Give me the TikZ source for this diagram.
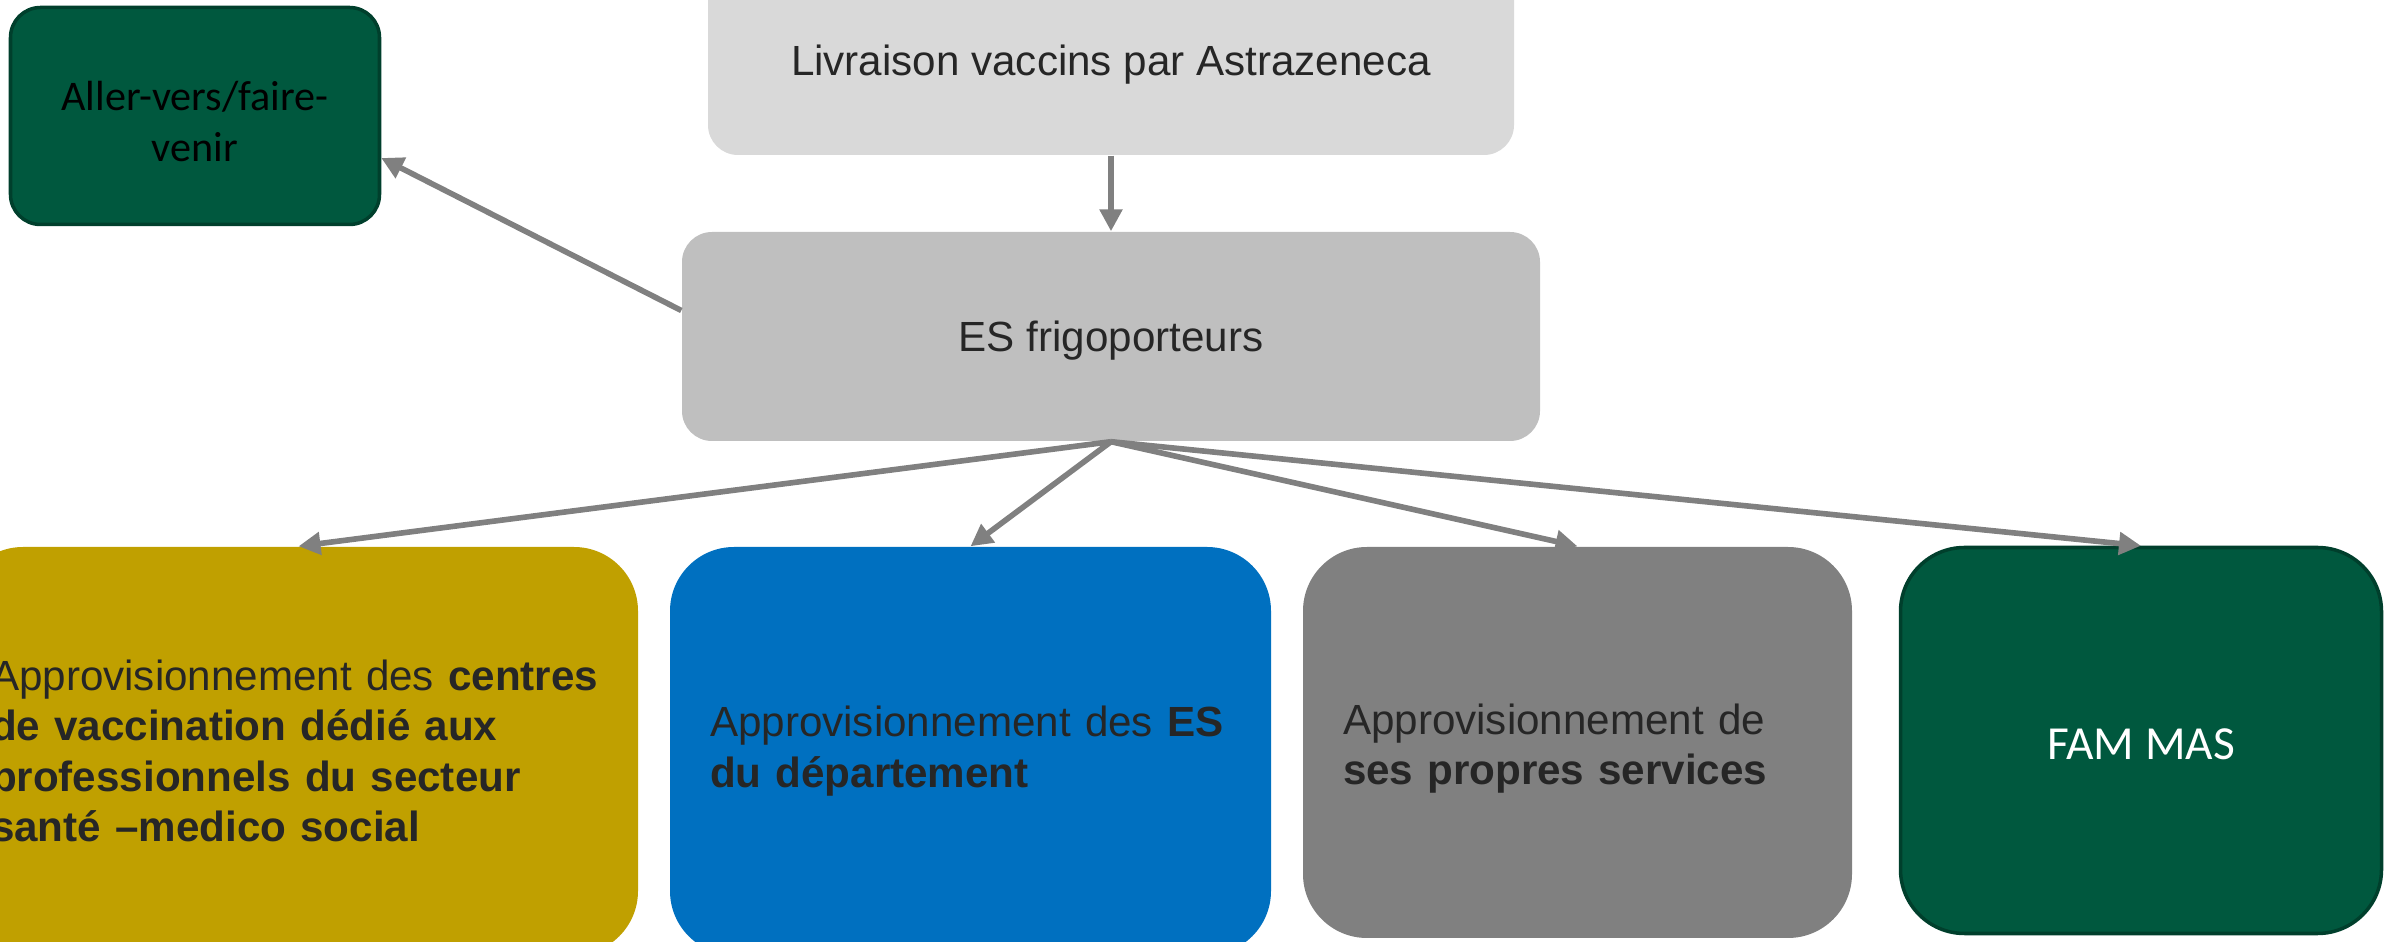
\documentclass[tikz,border=0pt]{standalone}
\usepackage{fontspec}
\setmainfont{Liberation Sans}
\newfontfamily\calibri{Carlito}
\usetikzlibrary{positioning}
\usetikzlibrary{arrows.meta}
\definecolor{texte}{HTML}{262626}
\definecolor{grisclair}{HTML}{D9D9D9}
\definecolor{grismoyen}{HTML}{BFBFBF}
\definecolor{gris}{HTML}{808080}
\definecolor{jaune}{HTML}{C0A000}
\definecolor{bleu}{HTML}{0070C0}
\definecolor{vertfonce}{HTML}{00583E}
\definecolor{vertbord}{HTML}{003F2C}
\tikzset{
	every node/.style = {font=\fontsize{12}{14.4}\selectfont, text=texte},
	boite/.style = {rectangle, rounded corners=0.3cm, inner sep=0pt, align=center},
	ligne/.style = {text height=1.04em, text depth=0.2em},
	appro/.style = {rectangle, rounded corners=0.64cm, inner xsep=0.4cm, inner ysep=0pt, align=left},
	vert/.style = {fill=vertfonce, draw=vertbord, line width=1pt},
	fleche/.style = {draw=gris, line width=1.6pt, -{Triangle[length=0.22cm, width=0.22cm]}}
}

\begin{document}
\begin{tikzpicture}
		\useasboundingbox (0,0) rectangle (23.98,-9.42);
		\clip (0,0) rectangle (23.98,-9.42);
		
		% niveau du haut
		\node[boite, ligne, fill=grisclair, minimum width=8.06cm, minimum height=1.88cm]
			(livraison) at (11.11,-0.61) {Livraison vaccins par Astrazeneca};
		\node[boite, ligne, fill=grismoyen, minimum width=8.58cm, minimum height=2.09cm]
			(frigo) at (11.11,-3.365) {ES frigoporteurs};
		\node[boite, vert, minimum width=3.69cm, minimum height=2.17cm,
			font=\calibri\fontsize{12}{14.6}\selectfont, text=black]
			(aller) at (1.95,-1.16) {\rule{0pt}{0.95em}Aller-vers/faire-\\venir};
		
		% approvisionnements
		\node[appro, fill=jaune, minimum width=6.79cm, minimum height=4.08cm, text width=6.15cm, inner xsep=0.32cm]
			(centres) at (2.985,-7.51)
			{Approvisionnement des \textbf{centres}\\\textbf{de vaccination dédié aux}\\\textbf{professionnels du secteur}\\\textbf{santé –medico social}};
		\node[appro, fill=bleu, minimum width=6.01cm, minimum height=4.08cm, text width=5.21cm]
			(departement) at (9.705,-7.51)
			{Approvisionnement des \textbf{ES}\\\textbf{du département}};
		\node[appro, fill=gris, minimum width=5.49cm, minimum height=3.91cm, text width=4.69cm]
			(services) at (15.775,-7.425)
			{\rule{0pt}{1.02em}Approvisionnement de\\\textbf{ses propres services}};
		\node[boite, vert, rounded corners=0.64cm, minimum width=4.81cm, minimum height=3.86cm,
			text height=1.1em, text depth=0pt,
			font=\calibri\fontsize{13.5}{16}\selectfont, text=white]
			(fammas) at (21.41,-7.405) {FAM MAS};
		
		% fleches
		\draw[fleche] (livraison) -- (frigo);
		\draw[fleche] ([yshift=0.26cm]frigo.west) -- ([yshift=-0.42cm]aller.east);
		\foreach \cible in {centres, departement, services, fammas}
			\draw[fleche] (frigo.south) -- (\cible.north);
	\end{tikzpicture}
\end{document}
